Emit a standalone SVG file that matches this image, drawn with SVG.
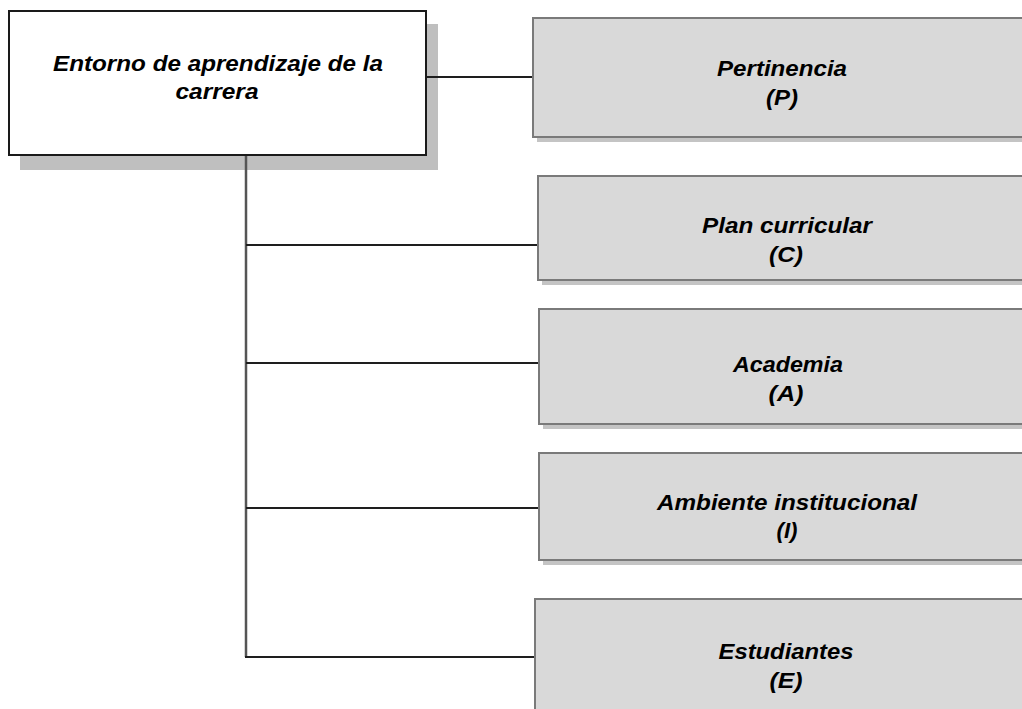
<svg xmlns="http://www.w3.org/2000/svg" width="1022" height="709" viewBox="0 0 1022 709">
<style>
.t{font-family:"Liberation Sans",Arial,sans-serif;font-weight:bold;font-style:italic;font-size:22px;fill:#000;text-anchor:middle}
.box{fill:#d9d9d9;stroke:#7a7a7a;stroke-width:2}
.sh{fill:#c4c4c4}
.main{fill:#fff;stroke:#1a1a1a;stroke-width:2}
.mainsh{fill:#bfbfbf}
.c{stroke:#1e1e1e;stroke-width:2;fill:none}
.v{stroke:#555;stroke-width:2.5;fill:none}
</style>
<rect width="1022" height="709" fill="#fff"/>
<g id="main">
<rect class="mainsh" x="20" y="24" width="418" height="146"/>
<rect class="main" x="9" y="11" width="417" height="144"/>
<text class="t" x="218" y="71" textLength="330" lengthAdjust="spacingAndGlyphs">Entorno de aprendizaje de la</text>
<text class="t" x="217" y="99" textLength="83" lengthAdjust="spacingAndGlyphs">carrera</text>
</g>
<g id="pertinencia">
<rect class="sh" x="537" y="23" width="500" height="119"/>
<rect class="box" x="533" y="18" width="500" height="119"/>
<text class="t" x="782" y="76" textLength="130" lengthAdjust="spacingAndGlyphs">Pertinencia</text>
<text class="t" x="782" y="105" textLength="32" lengthAdjust="spacingAndGlyphs">(P)</text>
</g>
<g id="plan">
<rect class="sh" x="542" y="181" width="500" height="104"/>
<rect class="box" x="538" y="176" width="500" height="104"/>
<text class="t" x="787" y="233" textLength="170" lengthAdjust="spacingAndGlyphs">Plan curricular</text>
<text class="t" x="786" y="262" textLength="34" lengthAdjust="spacingAndGlyphs">(C)</text>
</g>
<g id="academia">
<rect class="sh" x="543" y="314" width="500" height="115"/>
<rect class="box" x="539" y="309" width="500" height="115"/>
<text class="t" x="788" y="372" textLength="110" lengthAdjust="spacingAndGlyphs">Academia</text>
<text class="t" x="786" y="401" textLength="35" lengthAdjust="spacingAndGlyphs">(A)</text>
</g>
<g id="ambiente">
<rect class="sh" x="543" y="458" width="500" height="107"/>
<rect class="box" x="539" y="453" width="500" height="107"/>
<text class="t" x="787" y="510" textLength="260" lengthAdjust="spacingAndGlyphs">Ambiente institucional</text>
<text class="t" x="787" y="538" textLength="21" lengthAdjust="spacingAndGlyphs">(I)</text>
</g>
<g id="estudiantes">
<rect class="sh" x="539" y="604" width="500" height="130"/>
<rect class="box" x="535" y="599" width="500" height="130"/>
<text class="t" x="786" y="659" textLength="135" lengthAdjust="spacingAndGlyphs">Estudiantes</text>
<text class="t" x="786" y="688" textLength="33" lengthAdjust="spacingAndGlyphs">(E)</text>
</g>
<g id="connectors">
<line class="v" x1="246" y1="156" x2="246" y2="657"/>
<line class="c" x1="427" y1="77" x2="532" y2="77"/>
<line class="c" x1="246" y1="245" x2="537" y2="245"/>
<line class="c" x1="246" y1="363" x2="538" y2="363"/>
<line class="c" x1="246" y1="508" x2="538" y2="508"/>
<line class="c" x1="245" y1="657" x2="534" y2="657"/>
</g>
</svg>
